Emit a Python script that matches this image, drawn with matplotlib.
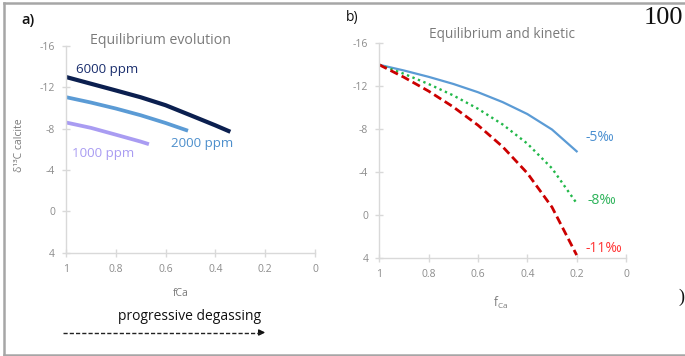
import matplotlib.pyplot as plt
from matplotlib.lines import Line2D

plt.rcParams['font.family'] = ['Open Sans', 'DejaVu Sans']
plt.rcParams['axes.unicode_minus'] = False

# panel a: equilibrium evolution for three pCO2 levels
f_6000 = [1.0, 0.9, 0.8, 0.7, 0.6, 0.5, 0.4, 0.34]
d_6000 = [-13.0, -12.35, -11.7, -11.04, -10.27, -9.3, -8.32, -7.7]
f_2000 = [1.0, 0.9, 0.8, 0.7, 0.6, 0.51]
d_2000 = [-11.05, -10.53, -9.95, -9.3, -8.55, -7.8]
f_1000 = [1.0, 0.9, 0.8, 0.7, 0.667]
d_1000 = [-8.6, -8.08, -7.42, -6.75, -6.5]

# panel b: equilibrium and kinetic (enrichment -5, -8, -11 permil)
f_b = [1.0, 0.9, 0.8, 0.7, 0.6, 0.5, 0.4, 0.3, 0.2]
d_5 = [-14.0, -13.47, -12.88, -12.22, -11.45, -10.53, -9.42, -7.98, -5.95]
d_8 = [-14.0, -13.16, -12.21, -11.15, -9.91, -8.45, -6.67, -4.37, -1.12]
d_11 = [-14.0, -12.84, -11.55, -10.08, -8.38, -6.38, -3.92, -0.76, 3.7]

x_ticks = [1, 0.8, 0.6, 0.4, 0.2, 0]
x_labels = ['1', '0.8', '0.6', '0.4', '0.2', '0']
y_ticks = [-16, -12, -8, -4, 0, 4]
y_labels = ['-16', '-12', '-8', '-4', '0', '4']

W, H = 685, 356
fig = plt.figure(figsize=(W / 100, H / 100), dpi=100)


def px(x0, y0, x1, y1):
    # pixel box (top-left origin) -> figure rect
    return [x0 / W, 1 - y1 / H, (x1 - x0) / W, (y1 - y0) / H]


def style(ax):
    ax.set_xlim(1, 0)
    ax.set_ylim(4, -16)
    for s in ['top', 'right']:
        ax.spines[s].set_visible(False)
    for s in ['left', 'bottom']:
        ax.spines[s].set_color('#d9d9d9')
        ax.spines[s].set_linewidth(1.0)
    ax.set_xticks(x_ticks, x_labels)
    ax.set_yticks(y_ticks, y_labels)
    ax.tick_params(direction='inout', length=6, width=1.0, color='#d9d9d9',
                   labelcolor='#8c8c8c', labelsize=7.5, pad=5)
    ax.set_facecolor('none')


grey = '#7a7a7a'

# ---- panel a
a = fig.add_axes(px(66, 46, 315, 252.7))
style(a)
a.plot(f_6000, d_6000, color='#0b1f4f', lw=3.0, solid_capstyle='butt', solid_joinstyle='round')
a.plot(f_2000, d_2000, color='#5b9bd5', lw=2.7, solid_capstyle='butt', solid_joinstyle='round')
a.plot(f_1000, d_1000, color='#a99cf2', lw=2.7, solid_capstyle='butt', solid_joinstyle='round')
fig.text(160 / W, 1 - 41 / H, 'Equilibrium evolution', ha='center', va='center',
         fontsize=10.2, color=grey)
fig.text(107 / W, 1 - 69 / H, '6000 ppm', ha='center', va='center', fontsize=9.6, color='#1b2f6e')
fig.text(202 / W, 1 - 143 / H, '2000 ppm', ha='center', va='center', fontsize=9.6, color='#4d8fcc')
fig.text(103 / W, 1 - 153 / H, '1000 ppm', ha='center', va='center', fontsize=9.6, color='#a99cf2')
fig.text(20 / W, 1 - 145 / H, 'δ¹³C calcite', ha='center', va='center', rotation=90,
         fontsize=7.5, color=grey)
fig.text(181 / W, 1 - 294 / H, 'fCa', ha='center', va='center', fontsize=7.5, color=grey)
fig.text(190 / W, 1 - 316 / H, 'progressive degassing', ha='center', va='center',
         fontsize=10, color='#111111')
fig.add_artist(Line2D([63 / W, 262 / W], [1 - 332.5 / H] * 2, color='#222222', lw=1.0,
                      ls=(0, (3, 1.5))))
fig.text(28 / W, 1 - 20 / H, 'a)', ha='center', va='center', fontsize=10.5,
         fontweight='semibold', color='#111111')
a.annotate('', xy=(268 / W, 1 - 332.5 / H), xytext=(258 / W, 1 - 332.5 / H),
           xycoords='figure fraction',
           arrowprops=dict(arrowstyle='-|>', color='#111111', lw=1.0, mutation_scale=9))

# ---- panel b
b = fig.add_axes(px(379.3, 43.3, 626, 258.3))
style(b)
b.plot(f_b, d_5, color='#5b9bd5', lw=1.6)
b.plot(f_b, d_8, color='#22b84a', lw=1.7, ls=(0, (1, 1.5)))
b.plot(f_b, d_11, color='#cc0000', lw=2.0, ls=(0, (3, 1.5)))
fig.text(502 / W, 1 - 35 / H, 'Equilibrium and kinetic', ha='center', va='center',
         fontsize=9.8, color=grey)
fig.text(586 / W, 1 - 138 / H, '-5‰', ha='left', va='center', fontsize=10, color='#4a8fd0')
fig.text(588 / W, 1 - 201 / H, '-8‰', ha='left', va='center', fontsize=10, color='#2db35a')
fig.text(585 / W, 1 - 249 / H, '-11‰', ha='left', va='center', fontsize=10, color='#ff3333')
fig.text(501 / W, 1 - 303 / H, r'f$_{\mathregular{Ca}}$', ha='center', va='center',
         fontsize=8.5, color=grey)
fig.text(352 / W, 1 - 18 / H, 'b)', ha='center', va='center', fontsize=10,
         color='#111111')

# stray text from the source page
fig.text(663 / W, 1 - 18 / H, '100', ha='center', va='center', fontsize=19,
         family='Liberation Serif', color='#111111')
fig.text(684 / W, 1 - 297 / H, ')', ha='right', va='center', fontsize=13,
         family='Liberation Serif', color='#111111')

# outer frame
frame = '#a6a6a6'
fig.add_artist(Line2D([4 / W, 1], [1 - 2.5 / H] * 2, color=frame, lw=1.8))
fig.add_artist(Line2D([4 / W, 1], [1 - 354.5 / H] * 2, color=frame, lw=1.8))
fig.add_artist(Line2D([4 / W] * 2, [1 - 2.5 / H, 1 - 354.5 / H], color=frame, lw=1.8))

fig.savefig('out.png', dpi=100)
